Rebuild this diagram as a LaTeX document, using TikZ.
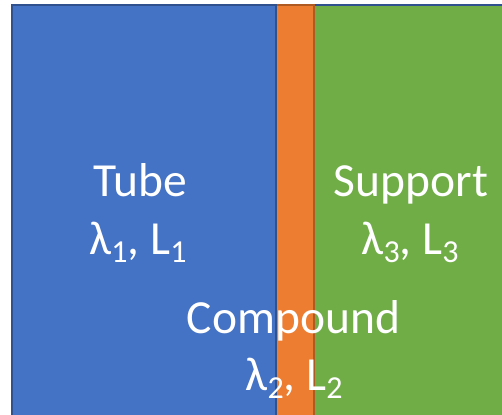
\documentclass[tikz,border=0pt]{standalone}
\usepackage{fontspec}
\setmainfont{Carlito}
\definecolor{pblue}{HTML}{4472C4}
\definecolor{pblueb}{HTML}{2F528F}
\definecolor{porange}{HTML}{ED7D31}
\definecolor{porangeb}{HTML}{AE5A21}
\definecolor{pgreen}{HTML}{70AD47}
\newcommand{\sbs}[1]{\raisebox{-0.18em}{\fontsize{32}{32}\selectfont #1}}
\begin{document}
\begin{tikzpicture}[x=1pt,y=-1pt,
  lbl/.style={text=white,font=\fontsize{47.5}{57}\selectfont,anchor=base,inner sep=0pt}]
\useasboundingbox (0,0) rectangle (502,414);
\clip (0,0) rectangle (502,414);
\draw[fill=pgreen,draw=pblueb,line width=2pt] (314,5) rectangle (520,430);
\draw[fill=porange,draw=porangeb,line width=2pt] (276,5) rectangle (314,430);
\draw[fill=pblue,draw=pblueb,line width=2pt] (12,5) rectangle (276,430);
\node[lbl] (tube1) at (140.5,196) {Tube};
\node[lbl] (tube2) at (138,254) {λ\sbs{1}, L\sbs{1}};
\node[lbl] (sup1) at (411,196) {Support};
\node[lbl] (sup2) at (410,254) {λ\sbs{3}, L\sbs{3}};
\node[lbl] (comp1) at (293.5,333) {Compound};
\node[lbl] (comp2) at (294,390) {λ\sbs{2}, L\sbs{2}};
\end{tikzpicture}
\end{document}
